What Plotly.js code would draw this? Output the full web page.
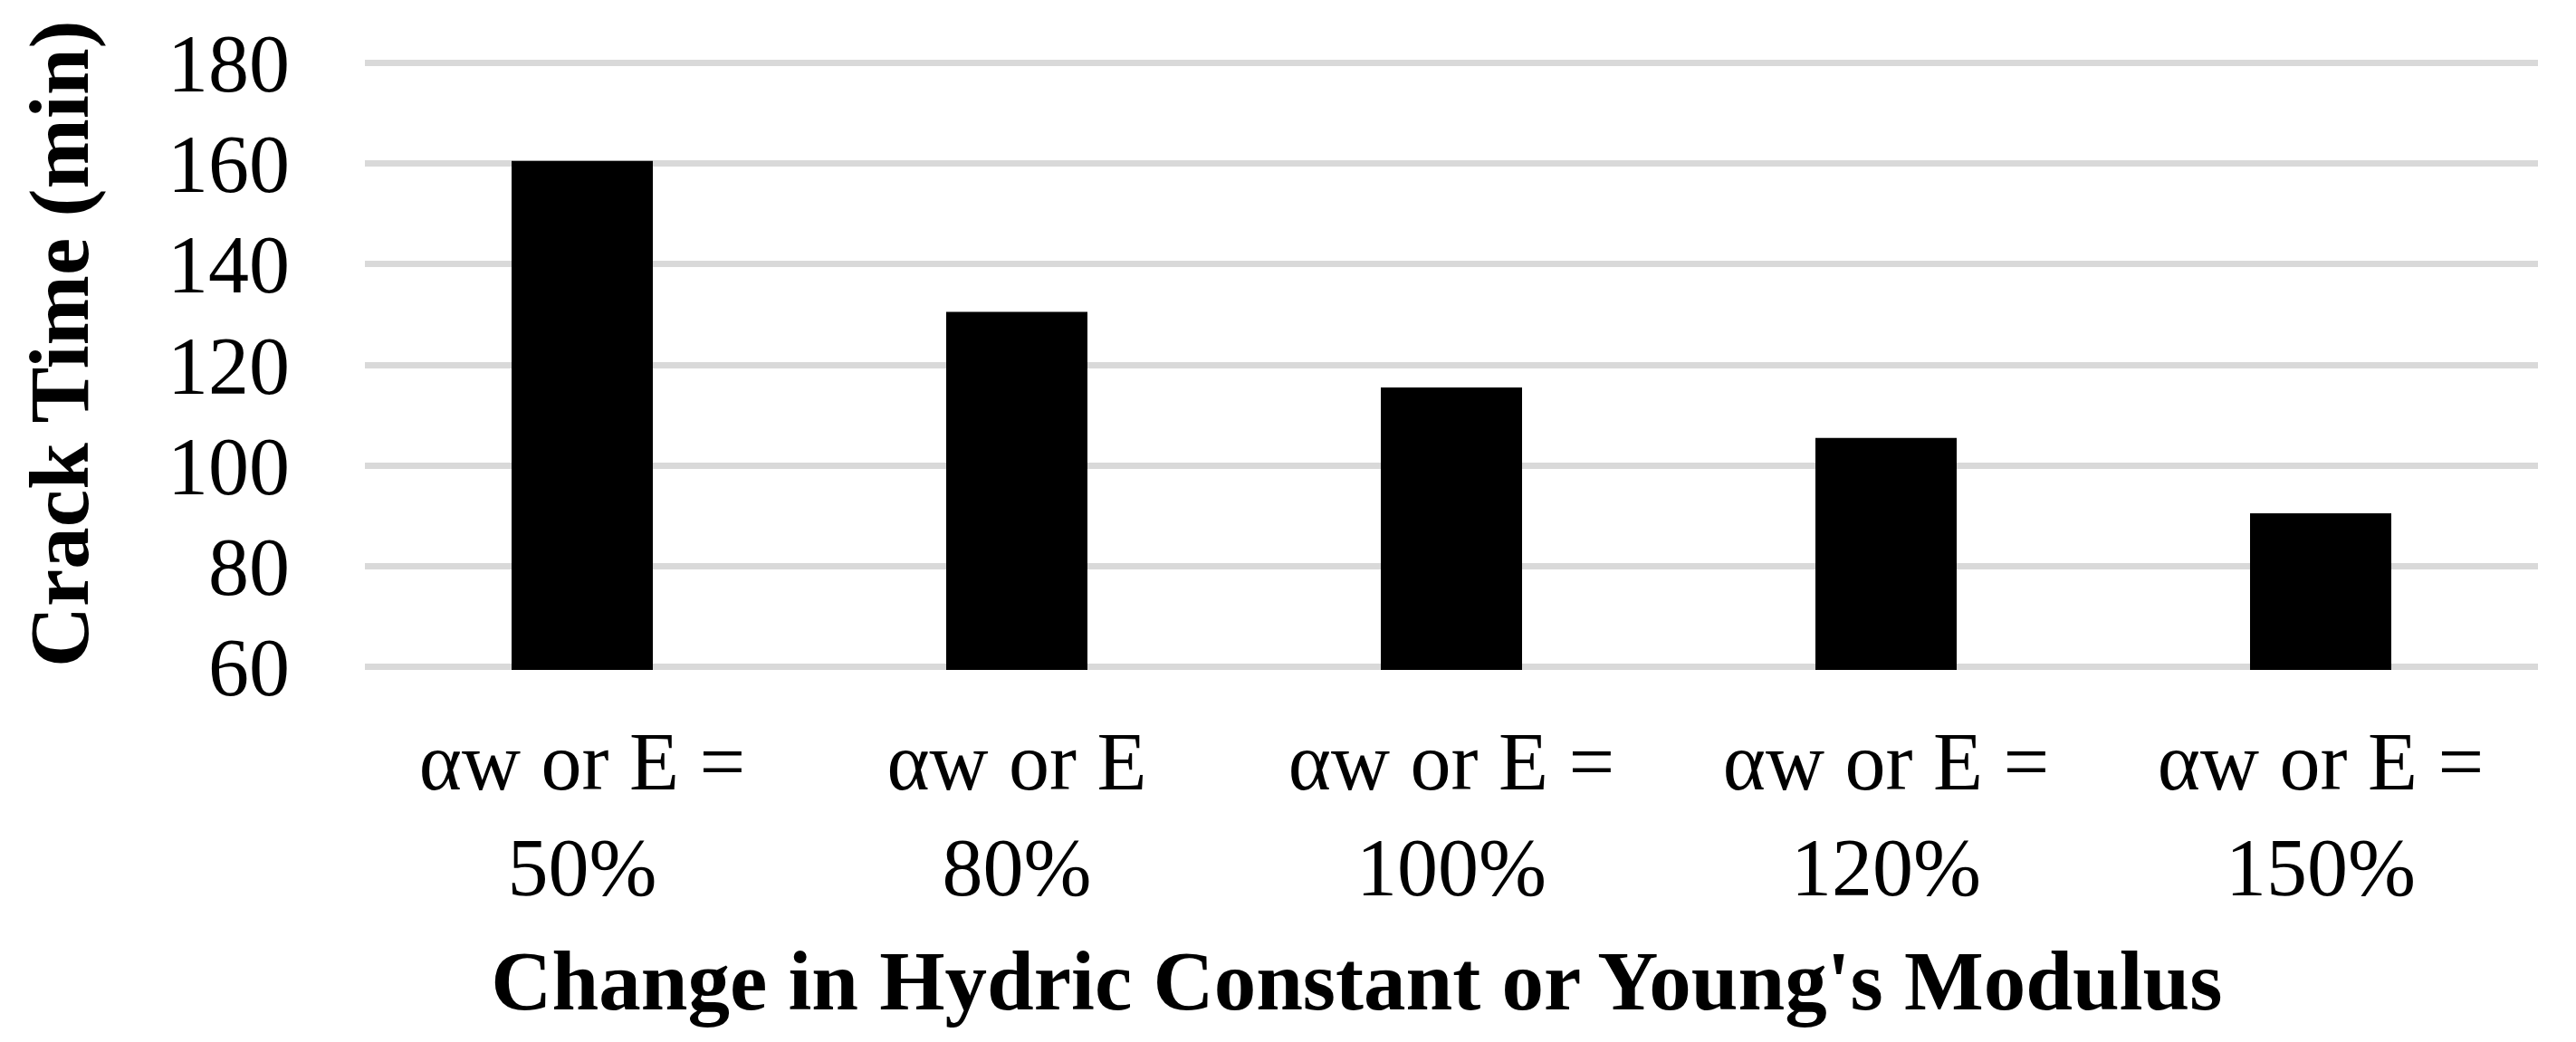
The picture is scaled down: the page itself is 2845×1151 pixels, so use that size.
<!DOCTYPE html>
<html>
<head>
<meta charset="utf-8">
<script src="https://cdn.plot.ly/plotly-3.0.1.min.js"></script>
<style>html,body{margin:0;padding:0;background:#fff;}#chart{width:2845px;height:1151px;}</style>
</head>
<body>
<div id="chart"></div>
<script>
const categories = ["50%", "80%", "100%", "120%", "150%"];
const tickLabels = ["αw or E =<br>50%", "αw or E<br>80%", "αw or E =<br>100%", "αw or E =<br>120%", "αw or E =<br>150%"];
const crackTime = [160.5, 130.5, 115.5, 105.5, 90.5];
const yTicks = [60, 80, 100, 120, 140, 160, 180];

const serif = "Liberation Serif, Times New Roman, serif";
const padX = "&nbsp;".repeat(9);
const padY = "&nbsp;".repeat(2);

const trace = {
  type: "bar",
  x: categories,
  y: crackTime,
  marker: {color: "#000000", line: {width: 0}},
  hoverinfo: "x+y"
};

const layout = {
  width: 2845,
  height: 1151,
  margin: {l: 403, r: 42, t: 66, b: 411},
  paper_bgcolor: "#ffffff",
  plot_bgcolor: "#ffffff",
  bargap: 0.675,
  showlegend: false,
  font: {family: serif, color: "#000000"},
  xaxis: {
    type: "category",
    tickvals: categories,
    ticktext: tickLabels,
    tickfont: {family: serif, size: 90, color: "#000000"},
    ticks: "",
    ticklabelstandoff: 41,
    showgrid: false,
    showline: false,
    zeroline: false,
    automargin: false,
    title: {
      text: "Change in Hydric Constant or Young's Modulus" + padX,
      font: {family: serif, size: 93, color: "#000000", weight: "bold"},
      standoff: 42
    }
  },
  yaxis: {
    range: [59.4, 180.6],
    tickvals: yTicks,
    ticktext: yTicks.map(String),
    tickfont: {family: serif, size: 90, color: "#000000"},
    ticks: "",
    ticklabelstandoff: 82,
    showgrid: true,
    gridcolor: "#d9d9d9",
    gridwidth: 7,
    showline: false,
    zeroline: false,
    automargin: false,
    title: {
      text: padY + "Crack Time (min)",
      font: {family: serif, size: 93, color: "#000000", weight: "bold"},
      standoff: 56
    }
  }
};

Plotly.newPlot("chart", [trace], layout, {staticPlot: true, displayModeBar: false});
</script>
</body>
</html>
